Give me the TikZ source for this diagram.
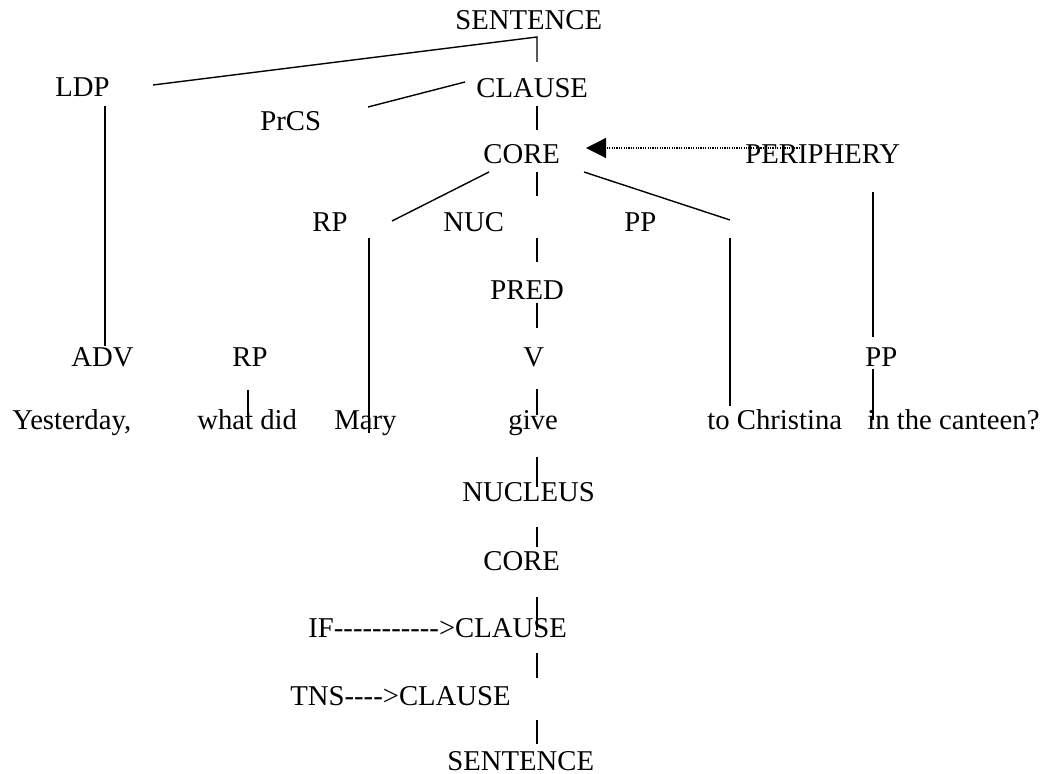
\documentclass[tikz,border=0pt]{standalone}
\usepackage{fontspec}
\setmainfont{Liberation Serif}[Ligatures=TeXOff]
\usetikzlibrary{arrows.meta}
\begin{document}
\begin{tikzpicture}[x=0.5pt,y=-0.5pt,
  lbl/.style={inner sep=0pt,anchor=base west,font=\fontsize{14.35pt}{17pt}\selectfont},
  branch/.style={line width=0.7pt},
  ptr/.style={line width=0.6pt,dash pattern=on 0.6pt off 0.6pt,-{Triangle[length=10pt,width=10pt]}}]
\useasboundingbox (0,0) rectangle (1043,774);

% labels of the tree (upper part)
\node[lbl] (sent)   at (455,30)  {SENTENCE};
\node[lbl] (ldp)    at (55,97)   {LDP};
\node[lbl] (clause) at (476,98)  {CLAUSE};
\node[lbl] (prcs)   at (260,131) {PrCS};
\node[lbl] (core)   at (483,164) {CORE};
\node[lbl] (peri)   at (745,164) {PERIPHERY};
\node[lbl] (rpa)    at (312,232) {RP};
\node[lbl] (nuc)    at (443,232) {NUC};
\node[lbl] (ppa)    at (624,232) {PP};
\node[lbl] (pred)   at (490,300) {PRED};
\node[lbl] (adv)    at (71,367)  {ADV};
\node[lbl] (rpb)    at (232,367) {RP};
\node[lbl] (verb)   at (523,367) {V};
\node[lbl] (ppb)    at (865,367) {PP};

% the sentence
\node[lbl] (w1) at (12,430)  {Yesterday,};
\node[lbl] (w2) at (197,430) {what did};
\node[lbl] (w3) at (334,430) {Mary};
\node[lbl] (w4) at (508,430) {give};
\node[lbl] (w5) at (707,430) {to Christina};
\node[lbl] (w6) at (867,430) {in the canteen?};

% operator projection (lower part)
\node[lbl] (nucleus) at (462,502) {NUCLEUS};
\node[lbl] (coreb)   at (483,570) {CORE};
\node[lbl] (ifcl)    at (308,637) {IF----------->CLAUSE};
\node[lbl] (tnscl)   at (290,705) {TNS---->CLAUSE};
\node[lbl] (sentb)   at (447,770) {SENTENCE};

% branch end points
\coordinate (sent-s)   at (537,37);
\coordinate (clause-n) at (537,62);
\coordinate (ldp-e)    at (153,85);
\coordinate (clause-w) at (465,82);
\coordinate (prcs-e)   at (368,107);
\coordinate (clause-s) at (537,106);
\coordinate (core-n)   at (537,130);
\coordinate (core-sw)  at (489,172);
\coordinate (rpa-ne)   at (392,221);
\coordinate (core-s)   at (537,172);
\coordinate (nuc-n)    at (537,196);
\coordinate (nuc-s)    at (537,238);
\coordinate (pred-n)   at (537,262);
\coordinate (core-se)  at (584,172);
\coordinate (ppa-ne)   at (730,220);
\coordinate (ldp-s)    at (105,106);
\coordinate (adv-n)    at (105,346);
\coordinate (rpa-s)    at (369,238);
\coordinate (w3-n)     at (369,433);
\coordinate (ppa-s)    at (730,238);
\coordinate (w5-n)     at (730,406);
\coordinate (peri-s)   at (873,192);
\coordinate (ppb-n)    at (873,337);
\coordinate (ppb-s)    at (873,369);
\coordinate (w6-n)     at (873,420);
\coordinate (rpb-s)    at (248,390);
\coordinate (w2-n)     at (248,415);
\coordinate (pred-s)   at (537,303);
\coordinate (verb-n)   at (537,328);
\coordinate (verb-s)   at (537,389);
\coordinate (w4-n)     at (537,415);
\coordinate (w4-s)     at (537,457);
\coordinate (nucleus-n) at (537,487);
\coordinate (nucleus-s) at (537,527);
\coordinate (coreb-n)  at (537,547);
\coordinate (coreb-s)  at (537,597);
\coordinate (ifcl-n)   at (537,630);
\coordinate (ifcl-s)   at (537,653);
\coordinate (tnscl-n)  at (537,678);
\coordinate (tnscl-s)  at (537,720);
\coordinate (sentb-n)  at (537,744);
\coordinate (peri-w)   at (800,148);
\coordinate (core-e)   at (586,148);

% layered structure
\draw[branch] (ldp-e) -- (sent-s) -- (clause-n);
\draw[branch] (prcs-e) -- (clause-w);
\draw[branch] (clause-s) -- (core-n);
\draw[branch] (core-sw) -- (rpa-ne);
\draw[branch] (core-s) -- (nuc-n);
\draw[branch] (nuc-s) -- (pred-n);
\draw[branch] (core-se) -- (ppa-ne);
\draw[branch] (pred-s) -- (verb-n);
\draw[branch] (ldp-s) -- (adv-n);
\draw[branch] (rpb-s) -- (w2-n);
\draw[branch] (rpa-s) -- (w3-n);
\draw[branch] (verb-s) -- (w4-n);
\draw[branch] (ppa-s) -- (w5-n);
\draw[branch] (peri-s) -- (ppb-n);
\draw[branch] (ppb-s) -- (w6-n);

% operator projection
\draw[branch] (w4-s) -- (nucleus-n);
\draw[branch] (nucleus-s) -- (coreb-n);
\draw[branch] (coreb-s) -- (ifcl-n);
\draw[branch] (ifcl-s) -- (tnscl-n);
\draw[branch] (tnscl-s) -- (sentb-n);

% periphery modifies the core
\draw[ptr] (peri-w) -- (core-e);
\end{tikzpicture}
\end{document}
